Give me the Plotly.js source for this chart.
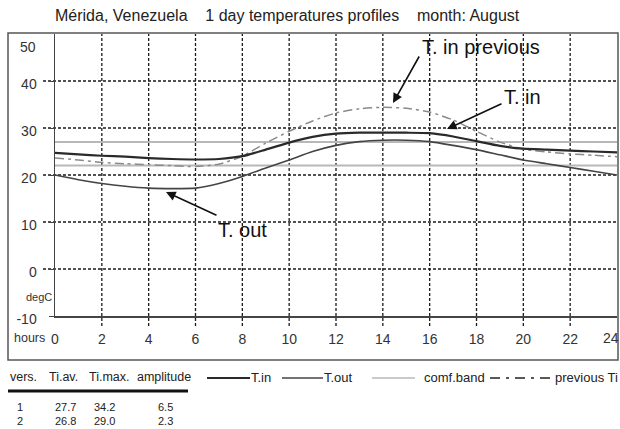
<!DOCTYPE html>
<html>
<head>
<meta charset="utf-8">
<script src="https://cdn.plot.ly/plotly-3.0.1.min.js"></script>
<style>html,body{margin:0;padding:0;background:#fff;}#chart{width:620px;height:429px;}</style>
</head>
<body>
<div id="chart"></div>
<script>
// ---- data ----
var hours = [0,1,2,3,4,5,6,7,8,9,10,11,12,13,14,15,16,17,18,19,20,21,22,23,24];
var tIn   = [24.7,24.4,24.1,23.9,23.6,23.4,23.3,23.4,24.0,25.4,26.9,28.1,28.8,29.0,29.0,29.0,28.9,28.2,27.2,26.2,25.6,25.4,25.2,25.0,24.8];
var tOut  = [20.0,19.0,18.2,17.6,17.2,17.1,17.2,18.2,19.7,21.5,23.2,25.0,26.3,27.1,27.4,27.4,27.1,26.3,25.4,24.3,23.2,22.4,21.6,20.8,20.0];
var tInPrev = [23.6,23.2,22.7,22.4,22.2,22.0,21.8,22.3,24.0,26.8,29.3,31.5,33.2,34.1,34.4,34.2,33.4,31.7,29.3,27.0,25.5,24.9,24.5,24.2,23.9];
var comfUpper = 27.0;
var comfLower = 22.0;
var xTicks = [0,2,4,6,8,10,12,14,16,18,20,22,24];
var xTickText = ["0","2","4","6","8","10","12","14","16","18","20","22","24"];
var yTicks = [-10,0,10,20,30,40];
var yTickText = ["-10","0","10","20","30","40"];
var yTopLabel = "50";
var versions = ["1","2"];
var tiAv = [27.7,26.8];
var tiMax = [34.2,29.0];
var amplitude = [6.5,2.3];
var tableHeader = ["vers.","Ti.av.","Ti.max.","amplitude"];
var legendLabels = ["T.in","T.out","comf.band","previous Ti"];

// ---- geometry helpers (pixel -> paper) ----
var L = 55, R = 3, T = 34, B = 113, W = 620, H = 429;
var PW = W - L - R, PH = H - T - B;
function px(x){ return (x - L) / PW; }
function py(y){ return (H - B - y) / PH; }

var FONT = "Liberation Sans, Arial, sans-serif";
var TICKFONT = {family:FONT, size:14, color:"#333"};
var GRID = {color:"#1a1a1a", width:1.3, dash:"3px,2px"};

var traces = [
  {x:[hours[0], hours[hours.length-1]], y:[comfUpper, comfUpper], mode:"lines", line:{color:"#b8b8b8", width:2}, hoverinfo:"skip"},
  {x:[hours[0], hours[hours.length-1]], y:[comfLower, comfLower], mode:"lines", line:{color:"#b8b8b8", width:2}, hoverinfo:"skip"},
  {x:hours, y:tInPrev, mode:"lines", line:{color:"#8a8a8a", width:1.5, dash:"9px,4px,3px,4px", shape:"spline", smoothing:0.6}},
  {x:hours, y:tOut, mode:"lines", line:{color:"#444", width:1.6, shape:"spline", smoothing:0.6}},
  {x:hours, y:tIn, mode:"lines", line:{color:"#2a2a2a", width:2.2, shape:"spline", smoothing:0.6}}
];

// the last x label is placed by hand (the reference pulls it inside the frame)
var xTickTextAxis = xTickText.slice(0, -1).concat([""]);

var ann = [];
ann.push({xref:"paper", yref:"paper", x:px(38), y:py(47), xanchor:"right", yanchor:"middle", text:yTopLabel, showarrow:false, font:TICKFONT});
ann.push({xref:"paper", yref:"paper", x:px(611), y:py(338), xanchor:"center", yanchor:"middle", text:xTickText[xTickText.length-1], showarrow:false, font:TICKFONT});
ann.push({xref:"paper", yref:"paper", x:px(12), y:py(338), xanchor:"left", yanchor:"middle", text:"hours", showarrow:false, font:{family:FONT, size:12.5, color:"#333"}});
ann.push({xref:"paper", yref:"paper", x:px(24), y:py(297), xanchor:"left", yanchor:"middle", text:"degC", showarrow:false, font:{family:FONT, size:11, color:"#333"}});

function arrow(hx, hy, tx, ty){
  return {xref:"paper", yref:"paper", x:px(hx), y:py(hy), ax:tx-hx, ay:ty-hy, text:"", showarrow:true,
          arrowhead:2, arrowsize:1.2, arrowwidth:1.6, arrowcolor:"#111"};
}
function label(t, x, y){
  return {xref:"paper", yref:"paper", x:px(x), y:py(y), xanchor:"left", yanchor:"middle", text:t, showarrow:false,
          font:{family:FONT, size:20, color:"#111"}};
}
ann.push(arrow(393,103,420,55)); ann.push(label("T. in previous", 420, 47));
ann.push(arrow(447,129,503,103)); ann.push(label("T. in", 502, 97));
ann.push(arrow(166,192,218,216)); ann.push(label("T. out", 216, 230));

// table header
var headX = [8,47,87,135];
tableHeader.forEach(function(t,i){
  ann.push({xref:"paper", yref:"paper", x:px(headX[i]), y:py(377), xanchor:"left", yanchor:"middle", text:t, showarrow:false, font:{family:FONT, size:12.5, color:"#222"}});
});
// table body: one annotation per column, rows stacked
var colX = [20,65,104,165];
var cols = [
  versions,
  tiAv.map(function(v){return v.toFixed(1);}),
  tiMax.map(function(v){return v.toFixed(1);}),
  amplitude.map(function(v){return v.toFixed(1);})
];
cols.forEach(function(c,j){
  ann.push({xref:"paper", yref:"paper", x:px(colX[j]), y:py(414), xanchor:"center", yanchor:"middle", text:c.join("<br>"),
            showarrow:false, borderpad:0, font:{family:FONT, size:11, color:"#222"}});
});

// legend entries
var legTextX = [250,323,423,554];
legendLabels.forEach(function(t,i){
  ann.push({xref:"paper", yref:"paper", x:px(legTextX[i]), y:py(377), xanchor:"left", yanchor:"middle", text:t, showarrow:false, borderpad:0, font:{family:FONT, size:13, color:"#222"}});
});

var shapes = [];
// dotted grid (drawn as shapes so they can run past the axes like the reference)
xTicks.forEach(function(v){
  if (v > xTicks[0] && v < xTicks[xTicks.length-1]) {
    shapes.push({type:"line", layer:"below", xref:"x", yref:"paper", x0:v, x1:v, y0:py(326), y1:1, line:GRID});
  }
});
yTicks.forEach(function(v){
  if (v > yTicks[0]) {
    shapes.push({type:"line", layer:"below", xref:"paper", yref:"y", x0:px(43), x1:1, y0:v, y1:v, line:GRID});
  }
});
shapes = shapes.concat([
  {type:"rect", xref:"paper", yref:"paper", x0:px(8), x1:px(618), y0:py(360), y1:py(33), line:{color:"#555", width:1.5}},
  {type:"line", xref:"paper", yref:"paper", x0:px(8), x1:px(188), y0:py(391), y1:py(391), line:{color:"#111", width:3}},
  {type:"line", xref:"paper", yref:"paper", x0:px(207), x1:px(250), y0:py(378), y1:py(378), line:{color:"#2a2a2a", width:2}},
  {type:"line", xref:"paper", yref:"paper", x0:px(282), x1:px(323), y0:py(378), y1:py(378), line:{color:"#444", width:1.6}},
  {type:"line", xref:"paper", yref:"paper", x0:px(372), x1:px(415), y0:py(378), y1:py(378), line:{color:"#b8b8b8", width:1.5}},
  {type:"line", xref:"paper", yref:"paper", x0:px(490), x1:px(550), y0:py(378), y1:py(378), line:{color:"#222", width:1.5, dash:"10px,6px,3px,6px"}}
]);

var layout = {
  width:W, height:H,
  margin:{l:L, r:R, t:T, b:B, pad:0},
  paper_bgcolor:"#fff", plot_bgcolor:"rgba(0,0,0,0)",
  showlegend:false,
  title:{text:"Mérida, Venezuela\u00a0\u00a0\u00a0 1 day temperatures profiles\u00a0\u00a0\u00a0 month: August",
         xref:"container", yref:"container", x:55/W, xanchor:"left", y:1-15/H, yanchor:"middle",
         font:{family:FONT, size:16, color:"#222"}},
  xaxis:{range:[0,24], tickvals:xTicks, ticktext:xTickTextAxis, showgrid:false,
         zeroline:false, showline:true, linecolor:"#444", linewidth:1.5, ticks:"", ticklabelstandoff:10,
         tickfont:TICKFONT, fixedrange:true},
  yaxis:{range:[-10,50], tickvals:yTicks, ticktext:yTickText, showgrid:false,
         zeroline:false, showline:true, linecolor:"#444", linewidth:1.5, ticks:"outside", ticklen:5, tickcolor:"#444",
         ticklabelstandoff:9, ticklabelshift:3,
         tickfont:TICKFONT, fixedrange:true},
  annotations:ann,
  shapes:shapes
};

Plotly.newPlot("chart", traces, layout, {staticPlot:true, displayModeBar:false});
</script>
</body>
</html>
